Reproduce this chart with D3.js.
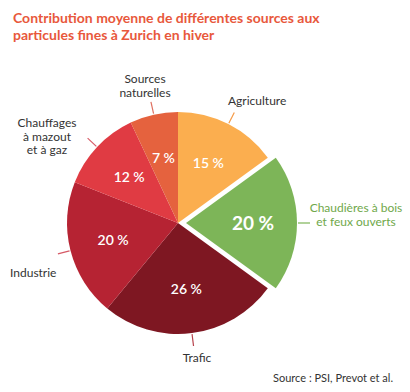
<!DOCTYPE html>
<html><head><meta charset="utf-8">
<script src="https://cdn.jsdelivr.net/npm/d3@7"></script>
<style>html,body{margin:0;padding:0;background:#fff;}svg{display:block;font-family:Lato,"Noto Sans",sans-serif;}</style>
</head><body>
<svg id="c" width="410" height="392"></svg>
<script>
const categories = ["Agriculture", "Chaudières à bois et feux ouverts", "Trafic", "Industrie", "Chauffages à mazout et à gaz", "Sources naturelles"];
const values = [15, 20, 26, 20, 12, 7];
const valueLabels = ["15 %", "20 %", "26 %", "20 %", "12 %", "7 %"];
const labelLines = [["Agriculture"], ["Chaudières à bois", "et feux ouverts"], ["Trafic"], ["Industrie"], ["Chauffages", "à mazout", "et à gaz"], ["Sources", "naturelles"]];
const colors = ["#FBAE4F", "#7DB558", "#7E1722", "#B62333", "#E03B43", "#E5623E"];
const lineColors = ["#F59A45", "#7DB558", "#B6404A", "#D65A66", "#D65A66", "#E07060"];
const exploded = [false, true, false, false, false, false];

const svg = d3.select("#c");
const cx = 178, cy = 223, R = 111, explodeDist = 8;

// title
svg.append("text").attr("x", 13).attr("y", 23).attr("fill", "#E8583C")
  .attr("font-weight", 700).attr("font-size", 14).text("Contribution moyenne de différentes sources aux");
svg.append("text").attr("x", 13).attr("y", 40).attr("fill", "#E8583C")
  .attr("font-weight", 700).attr("font-size", 14).text("particules fines à Zurich en hiver");

const pie = d3.pie().sort(null).value(d => d)(values);
const arc = d3.arc().innerRadius(0).outerRadius(R);
const labelArc = d3.arc().innerRadius(67).outerRadius(67);

const g = svg.append("g").attr("transform", `translate(${cx},${cy})`);
pie.forEach((p, i) => {
  const mid = (p.startAngle + p.endAngle) / 2;
  const off = exploded[i] ? explodeDist : 0;
  const ox = Math.sin(mid) * off, oy = -Math.cos(mid) * off;
  const sg = g.append("g").attr("transform", `translate(${ox},${oy})`);
  sg.append("path").attr("d", arc(p)).attr("fill", colors[i]);
  const [lx, ly] = labelArc.centroid(p);
  sg.append("text").attr("x", lx).attr("y", ly).attr("dy", "0.35em")
    .attr("text-anchor", "middle").attr("fill", "#fff")
    .attr("font-weight", exploded[i] ? 700 : 600)
    .attr("font-size", exploded[i] ? 19 : 14).text(valueLabels[i]);
  const r1 = R + 1, r2 = R + 13;
  sg.append("line")
    .attr("x1", Math.sin(mid) * r1).attr("y1", -Math.cos(mid) * r1)
    .attr("x2", Math.sin(mid) * r2).attr("y2", -Math.cos(mid) * r2)
    .attr("stroke", lineColors[i]).attr("stroke-width", 1.2);
});

const labelPos = [
  {x: 228, y: 105, anchor: "start", color: "#333"},
  {x: 356, y: 212, anchor: "middle", color: "#6FA84A"},
  {x: 197, y: 362, anchor: "middle", color: "#333"},
  {x: 10, y: 277, anchor: "start", color: "#333"},
  {x: 47, y: 127, anchor: "middle", color: "#333"},
  {x: 145, y: 83, anchor: "middle", color: "#333"}
];
labelLines.forEach((lines, i) => {
  const pos = labelPos[i];
  lines.forEach((ln, j) => {
    svg.append("text").attr("x", pos.x).attr("y", pos.y + j * 13.5)
      .attr("text-anchor", pos.anchor).attr("fill", pos.color)
      .attr("font-size", 12).text(ln);
  });
});

svg.append("text").attr("x", 393).attr("y", 382).attr("text-anchor", "end")
  .attr("fill", "#333").attr("font-size", 11).text("Source : PSI, Prevot et al.");
</script>
</body></html>
